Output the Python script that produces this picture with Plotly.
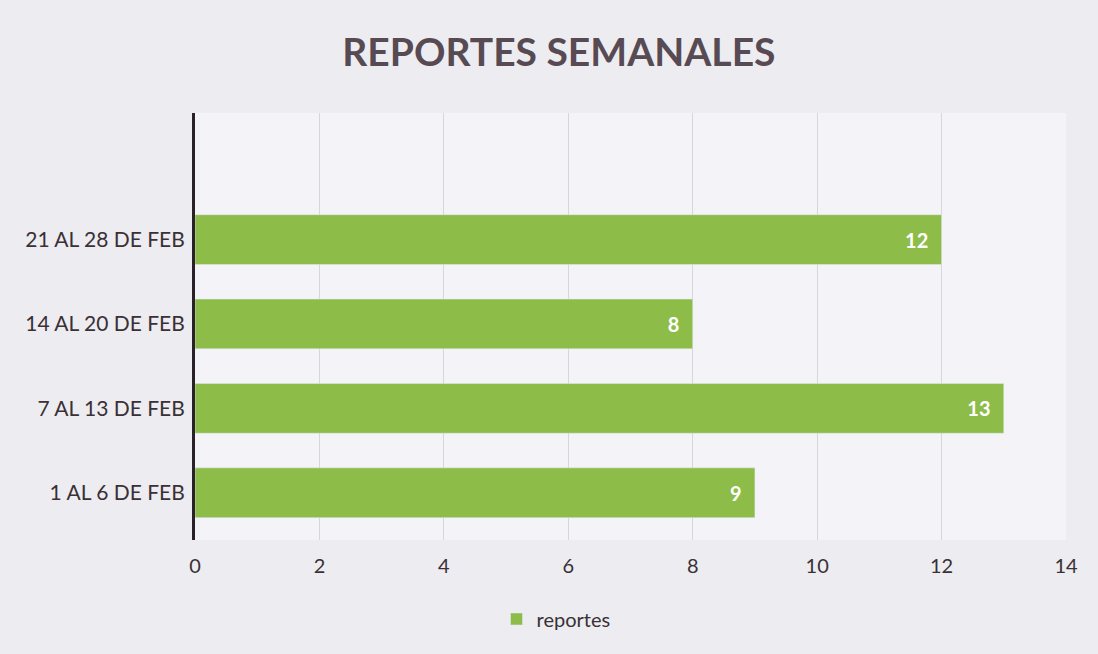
import plotly.graph_objects as go

categories = ["1 AL 6 DE FEB", "7 AL 13 DE FEB", "14 AL 20 DE FEB", "21 AL 28 DE FEB"]
reportes = [9, 13, 8, 12]
x_ticks = [0, 2, 4, 6, 8, 10, 12, 14]

fig = go.Figure()
fig.add_trace(go.Bar(
    y=categories, x=reportes, orientation="h", name="reportes",
    marker=dict(color="#8dbd48"), width=0.59,
    texttemplate="<b>%{x}</b>\u00a0\u00a0", textposition="inside", insidetextanchor="end",
    textfont=dict(color="white", size=20, family="Lato"),
))

W, H = 1098, 654
fig.update_layout(
    width=W, height=H,
    margin=dict(l=195, r=32, t=113, b=114),
    paper_bgcolor="#ececf1", plot_bgcolor="#f4f4f8",
    title=dict(text="<b>REPORTES SEMANALES</b>", x=0.509, xref="container", xanchor="center",
               y=0.92, yanchor="middle",
               font=dict(family="Lato", size=39, color="#574a52")),
    font=dict(family="Lato", color="#3a3035"),
    showlegend=True,
    legend=dict(orientation="h", x=0.4145, xanchor="center",
                y=-0.185, yanchor="middle",
                font=dict(size=20, color="#3a3035"), bgcolor="rgba(0,0,0,0)",
                itemwidth=30),
    bargap=0.4,
)
fig.update_xaxes(range=[0, 14], tickvals=x_ticks, showgrid=True, gridcolor="#d6d6de", gridwidth=1,
                 zeroline=False, showline=False, tickfont=dict(size=20), ticks="", ticklabelstandoff=12)
fig.update_yaxes(range=[-0.56, 4.5], showgrid=False, showline=True, linecolor="#2b2229", linewidth=3,
                 ticks="", tickfont=dict(size=21), ticklabelstandoff=3)
fig.write_html("out.html", config={"displayModeBar": False},
               post_script="document.body.style.margin='0';")
